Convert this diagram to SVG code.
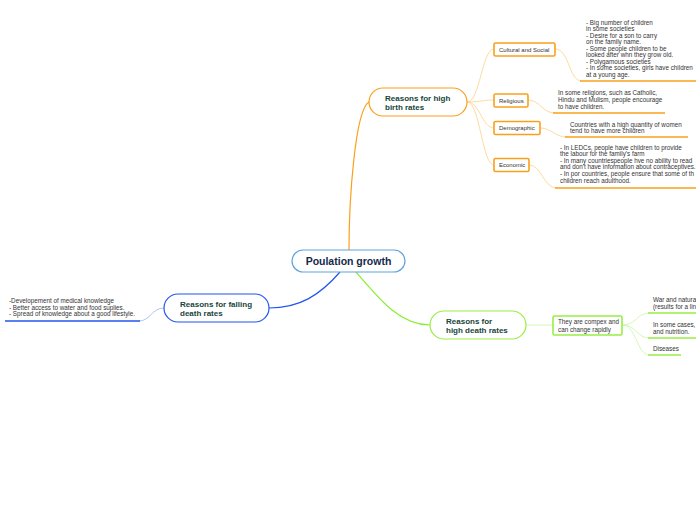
<svg xmlns="http://www.w3.org/2000/svg" width="696" height="520" viewBox="0 0 696 520">
<style>
.t{font-family:"Liberation Sans",Arial,sans-serif;font-size:6.3px;fill:#333}
.s{font-family:"Liberation Sans",Arial,sans-serif;font-size:6px;fill:#333}
.n{font-family:"Liberation Sans",Arial,sans-serif;font-size:8px;font-weight:bold;fill:#17453a}
.c{font-family:"Liberation Sans",Arial,sans-serif;font-size:10.5px;font-weight:bold;fill:#13294b}
.o{fill:#fff;stroke:#f9a01b;stroke-width:1.2}
.g{fill:#fff;stroke:#99ee44;stroke-width:1.2}
.sub{stroke-width:1.6}
</style>
<rect width="696" height="520" fill="#fff"/>
<g id="connectors" fill="none">
<path d="M349,250 C349,200 355,110 369,102" stroke="#f9a01b" stroke-width="1.2"/>
<path d="M340,272 C320,295 300,308 269,308" stroke="#2255ee" stroke-width="1.2"/>
<path d="M356,272 C380,300 400,325 430,325" stroke="#88ee33" stroke-width="1.2"/>
<path d="M467,102 C480,102 482,49 494,49" stroke="#fcd08a" stroke-width="0.8"/>
<path d="M467,102 C480,102 482,100 494,100" stroke="#fcd08a" stroke-width="0.8"/>
<path d="M467,102 C480,102 482,128 494,128" stroke="#fcd08a" stroke-width="0.8"/>
<path d="M467,102 C480,102 482,165 494,165" stroke="#fcd08a" stroke-width="0.8"/>
<path d="M555,49 C570,49 568,81 582,81" stroke="#fcd08a" stroke-width="0.8"/>
<path d="M528,100 C540,100 542,113 555,113" stroke="#fcd08a" stroke-width="0.8"/>
<path d="M540,128 C552,128 554,137 567,137" stroke="#fcd08a" stroke-width="0.8"/>
<path d="M529,165 C542,165 543,188 557,188" stroke="#fcd08a" stroke-width="0.8"/>
<path d="M164,308 C152,308 150,321 139,321" stroke="#9bb5f5" stroke-width="0.8"/>
<path d="M526,325 L553,325" stroke="#ccf5a6" stroke-width="0.8"/>
<path d="M622,325 C637,325 636,313 650,313" stroke="#ccf5a6" stroke-width="0.8"/>
<path d="M622,325 C637,325 636,338 650,338" stroke="#ccf5a6" stroke-width="0.8"/>
<path d="M622,325 C637,325 636,355 650,355" stroke="#ccf5a6" stroke-width="0.8"/>
<line x1="580" y1="81" x2="696" y2="81" stroke="#f9a01b" stroke-width="1.6"/>
<line x1="553" y1="113" x2="665" y2="113" stroke="#f9a01b" stroke-width="1.6"/>
<line x1="565" y1="137" x2="688" y2="137" stroke="#f9a01b" stroke-width="1.6"/>
<line x1="555" y1="188" x2="696" y2="188" stroke="#f9a01b" stroke-width="1.6"/>
<line x1="5" y1="321" x2="140" y2="321" stroke="#2255ee" stroke-width="1.6"/>
<line x1="648" y1="313" x2="696" y2="313" stroke="#99ee44" stroke-width="1.6"/>
<line x1="648" y1="338" x2="696" y2="338" stroke="#99ee44" stroke-width="1.6"/>
<line x1="648" y1="355" x2="681" y2="355" stroke="#99ee44" stroke-width="1.6"/>
</g>
<g id="central">
<rect x="292" y="250" width="113" height="22" rx="11" fill="#fff" stroke="#5ea4dc" stroke-width="1.2"/>
<text class="c" x="348.5" y="264.5" text-anchor="middle">Poulation growth</text>
</g>
<g id="birth">
<rect x="369" y="88" width="98" height="28" rx="14" class="o"/>
<text class="n" x="385" y="101">Reasons for high</text>
<text class="n" x="385" y="110">birth rates</text>
</g>
<g id="falling">
<rect x="164" y="294" width="105" height="28" rx="14" fill="#fff" stroke="#2255ee" stroke-width="1.2"/>
<text class="n" x="180" y="307">Reasons for falling</text>
<text class="n" x="180" y="316">death rates</text>
</g>
<g id="highdeath">
<rect x="430" y="311" width="96" height="28" rx="14" class="g"/>
<text class="n" x="446" y="324">Reasons for</text>
<text class="n" x="446" y="333">high death rates</text>
</g>
<g id="cultural">
<rect x="494" y="43" width="61" height="13" rx="1.5" class="o sub"/>
<text class="s" x="499" y="51.7">Cultural and Social</text>
</g>
<g id="religious">
<rect x="494" y="94" width="34" height="13" rx="1.5" class="o sub"/>
<text class="s" x="499" y="102.7">Religious</text>
</g>
<g id="demographic">
<rect x="494" y="121.5" width="46" height="13" rx="1.5" class="o sub"/>
<text class="s" x="499" y="130.2">Demographic</text>
</g>
<g id="economic">
<rect x="494" y="158.5" width="35" height="13" rx="1.5" class="o sub"/>
<text class="s" x="499" y="167.2">Economic</text>
</g>
<g id="complex">
<rect x="553" y="316" width="69" height="19" rx="1.5" class="g sub"/>
<text class="t" x="558" y="324.3">They are compex and</text>
<text class="t" x="558" y="331.5">can change rapidly</text>
</g>
<g id="cultural-text">
<text class="t" x="586" y="24.5">- Big number of children</text>
<text class="t" x="586" y="31">in some societies</text>
<text class="t" x="586" y="37.5">- Desire for a son to carry</text>
<text class="t" x="586" y="44">on the family name.</text>
<text class="t" x="586" y="50.5">- Some people children to be</text>
<text class="t" x="586" y="57">looked after whn they grow old.</text>
<text class="t" x="586" y="63.5">- Polygamous societies</text>
<text class="t" x="586" y="70">- In some societies, girls have children</text>
<text class="t" x="586" y="76.5">at a young age.</text>
</g>
<g id="religious-text">
<text class="t" x="558" y="94.5">In some religions, such as Catholic,</text>
<text class="t" x="558" y="101.5">Hindu and Mulism, people encourage</text>
<text class="t" x="558" y="108.5">to have children.</text>
</g>
<g id="demographic-text">
<text class="t" x="570" y="126.5">Countries with a high quantity of women</text>
<text class="t" x="570" y="133">tend to have more children</text>
</g>
<g id="economic-text">
<text class="t" x="560" y="149.5">- In LEDCs, people have children to provide</text>
<text class="t" x="560" y="156">the labour for the family's farm</text>
<text class="t" x="560" y="162.7">- In many countriespeople hve no ability to read</text>
<text class="t" x="560" y="169.4">and don't have information about contraceptives.</text>
<text class="t" x="560" y="176">- In por countries, people ensure that some of th</text>
<text class="t" x="560" y="182.7">children reach adulthood.</text>
</g>
<g id="falling-text">
<text class="t" x="9" y="303">-Developement of medical knowledge</text>
<text class="t" x="9" y="309.7">- Better access to water and food suplies.</text>
<text class="t" x="9" y="316.4">- Spread of knowledge about a good lifestyle.</text>
</g>
<g id="war">
<text class="t" x="653" y="302">War and natural</text>
<text class="t" x="653" y="309">(results for a lin</text>
</g>
<g id="cases">
<text class="t" x="653" y="327">In some cases,</text>
<text class="t" x="653" y="334">and nutrition.</text>
</g>
<g id="diseases">
<text class="t" x="653" y="350.5">Diseases</text>
</g>
</svg>
